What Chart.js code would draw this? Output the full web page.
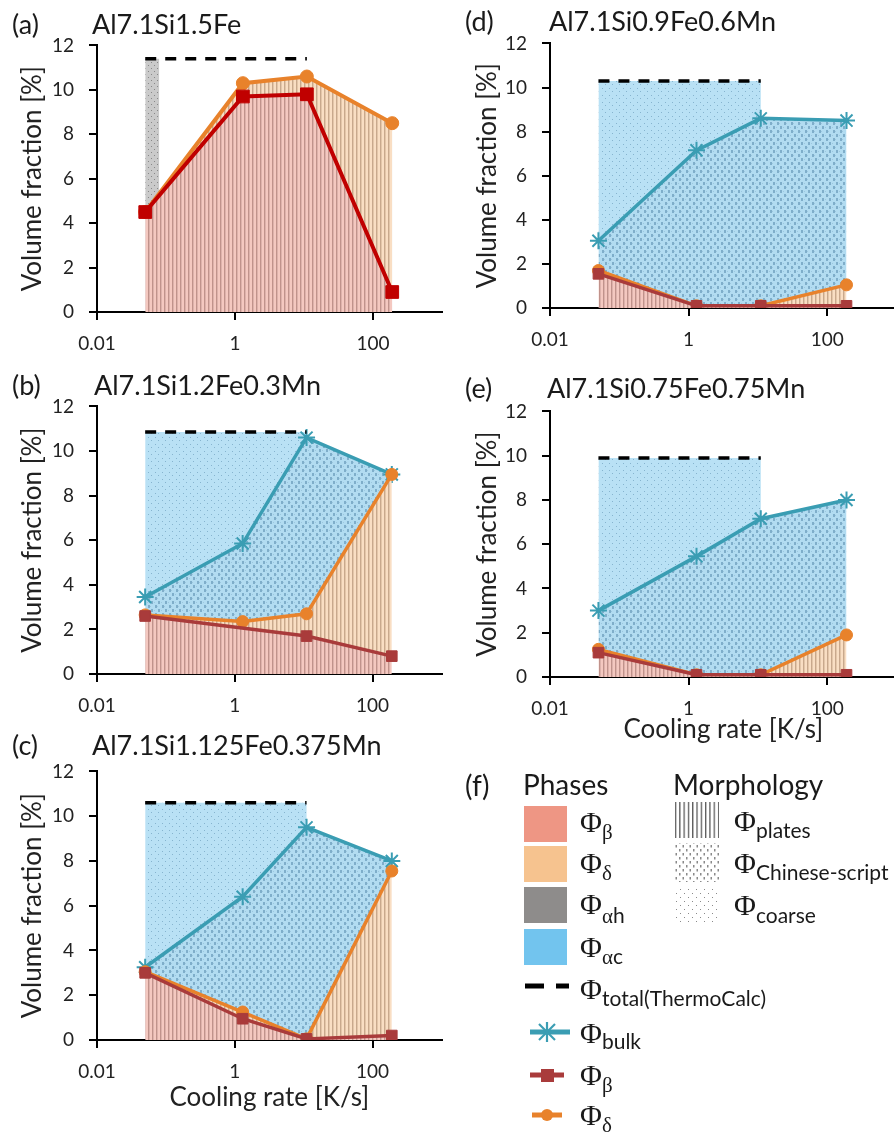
<!DOCTYPE html>
<html><head><meta charset="utf-8">
<script src="https://cdn.jsdelivr.net/npm/chart.js@4/dist/chart.umd.min.js"></script>
<style>
html,body{margin:0;padding:0;width:894px;height:1134px;overflow:hidden;background:#fff;}
canvas.c{position:absolute;}
.t{position:absolute;font-family:Lato,sans-serif;font-size:27px;line-height:27px;color:#1a1a1a;white-space:nowrap;}
.h{position:absolute;font-family:Lato,sans-serif;font-size:28px;line-height:28px;color:#1a1a1a;white-space:nowrap;}
.p{position:absolute;font-family:"Liberation Serif",serif;font-size:30px;line-height:30px;color:#1a1a1a;white-space:nowrap;}
.p .g{font-family:"Liberation Serif",serif;font-size:21px;position:relative;top:7px;}
.p .s{font-family:Lato,sans-serif;font-size:21px;position:relative;top:7px;}
</style></head><body>

<canvas class="c" id="ca"></canvas>
<canvas class="c" id="cb"></canvas>
<canvas class="c" id="cc"></canvas>
<canvas class="c" id="cd"></canvas>
<canvas class="c" id="ce"></canvas>

<div class="t" style="left:12px;top:10px">(a)</div><div class="t" style="left:92px;top:10px">Al7.1Si1.5Fe</div>
<div class="t" style="left:12px;top:371px">(b)</div><div class="t" style="left:94px;top:371px">Al7.1Si1.2Fe0.3Mn</div>
<div class="t" style="left:12px;top:731px">(c)</div><div class="t" style="left:92px;top:731px">Al7.1Si1.125Fe0.375Mn</div>
<div class="t" style="left:465px;top:7px">(d)</div><div class="t" style="left:549px;top:7px">Al7.1Si0.9Fe0.6Mn</div>
<div class="t" style="left:465px;top:374px">(e)</div><div class="t" style="left:547px;top:374px">Al7.1Si0.75Fe0.75Mn</div>

<!-- legend (f) -->
<svg style="position:absolute;left:447px;top:760px" width="447" height="374">
<defs>
<pattern id="pPl" width="4.3" height="10" patternUnits="userSpaceOnUse"><rect x="0" y="0" width="1.3" height="10" fill="#5a5a5a"/></pattern>
<pattern id="pCh" width="7" height="8" patternUnits="userSpaceOnUse"><rect x="1" y="1" width="1.5" height="2.5" fill="#8a8a8a"/><rect x="4.5" y="5" width="1.5" height="2.5" fill="#8a8a8a"/></pattern>
<pattern id="pCo" width="8" height="8" patternUnits="userSpaceOnUse"><rect x="1" y="1" width="1" height="1" fill="#8a8a8a"/><rect x="5" y="5" width="1" height="1" fill="#8a8a8a"/></pattern>
</defs>
<rect x="77" y="46" width="43" height="36" fill="#EE9684"/>
<rect x="77" y="86" width="43" height="36" fill="#F6C38F"/>
<rect x="77" y="127" width="43" height="36" fill="#8E8C8B"/>
<rect x="77" y="169" width="43" height="36" fill="#72C4EE"/>
<rect x="228" y="42" width="44" height="36" fill="url(#pPl)"/>
<rect x="228" y="83" width="44" height="39" fill="url(#pCh)"/>
<rect x="228" y="127" width="44" height="35" fill="url(#pCo)"/>
<line x1="78" y1="226" x2="97" y2="226" stroke="#000" stroke-width="5"/>
<line x1="109" y1="226" x2="122" y2="226" stroke="#000" stroke-width="5"/>
<line x1="83" y1="272" x2="123" y2="272" stroke="#3A9DB3" stroke-width="5"/>
<g stroke="#3A9DB3" stroke-width="2.2"><line x1="92" y1="264" x2="108" y2="280"/><line x1="108" y1="264" x2="92" y2="280"/><line x1="100" y1="262" x2="100" y2="282"/></g>
<line x1="83" y1="315" x2="117" y2="315" stroke="#A93B3B" stroke-width="5"/>
<rect x="94" y="309" width="13" height="13" fill="#A93B3B"/>
<line x1="85" y1="355" x2="115" y2="355" stroke="#E8822B" stroke-width="5"/>
<circle cx="100" cy="355" r="6" fill="#E8822B"/>
</svg>
<div class="h" style="left:465px;top:771px">(f)</div>
<div class="h" style="left:523px;top:770px">Phases</div>
<div class="h" style="left:673px;top:770px">Morphology</div>
<div class="p" style="left:580px;top:807px">Φ<span class="g">β</span></div>
<div class="p" style="left:580px;top:848px">Φ<span class="g">δ</span></div>
<div class="p" style="left:580px;top:889px">Φ<span class="g" style="top:9px">α</span><span class="s" style="top:9px">h</span></div>
<div class="p" style="left:580px;top:932px">Φ<span class="g">α</span><span class="s">c</span></div>
<div class="p" style="left:580px;top:974px">Φ<span class="s">total(ThermoCalc)</span></div>
<div class="p" style="left:580px;top:1018px">Φ<span class="s" style="top:6px">bulk</span></div>
<div class="p" style="left:580px;top:1060px">Φ<span class="g">β</span></div>
<div class="p" style="left:580px;top:1100px">Φ<span class="g">δ</span></div>
<div class="p" style="left:734px;top:806px">Φ<span class="s">plates</span></div>
<div class="p" style="left:734px;top:848px">Φ<span class="s">Chinese-script</span></div>
<div class="p" style="left:734px;top:890px">Φ<span class="s" style="top:8px">coarse</span></div>

<script>
// ---------- data ----------
const xTicks = [0.01, 1, 100];
const xTickLabels = ['0.01', '1', '100'];
const yTicks = [0, 2, 4, 6, 8, 10, 12];
const coolingRates = [0.05, 1.3, 11, 190];

// (a) Al7.1Si1.5Fe
const aBeta  = [4.5, 9.7, 9.8, 0.9];
const aDelta = [4.5, 10.3, 10.6, 8.5];
const aTotal = 11.4;
const aAlphaHRates = [0.05, 0.08];
// (b) Al7.1Si1.2Fe0.3Mn
const bBulk  = [3.45, 5.85, 10.6, 8.95];
const bBeta  = [2.6, null, 1.7, 0.8];
const bDelta = [2.65, 2.35, 2.7, 8.95];
const bTotal = 10.85;
// (c) Al7.1Si1.125Fe0.375Mn
const cBulk  = [3.25, 6.4, 9.5, 8.0];
const cBeta  = [3.0, 0.95, 0.05, 0.2];
const cDelta = [3.05, 1.25, 0.05, 7.55];
const cTotal = 10.6;
// (d) Al7.1Si0.9Fe0.6Mn
const dBulk  = [3.05, 7.15, 8.6, 8.5];
const dBeta  = [1.55, 0.1, 0.1, 0.1];
const dDelta = [1.7, 0.1, 0.1, 1.05];
const dTotal = 10.3;
// (e) Al7.1Si0.75Fe0.75Mn
const eBulk  = [3.0, 5.45, 7.15, 8.0];
const eBeta  = [1.1, 0.1, 0.1, 0.1];
const eDelta = [1.25, 0.1, 0.1, 1.9];
const eTotal = 9.9;

// ---------- styling ----------
const RED_A = '#C00000', RED = '#A93B3B', ORANGE = '#E8822B', TEAL = '#3A9DB3';

function makePattern(w, h, draw) {
  const c = document.createElement('canvas'); c.width = w; c.height = h;
  const g = c.getContext('2d'); draw(g);
  return g.createPattern(c, 'repeat');
}
const patBeta = makePattern(4, 4, g => { g.fillStyle = '#F4C8C0'; g.fillRect(0,0,4,4); g.fillStyle = '#C0928B'; g.fillRect(0,0,1,4); g.fillStyle = '#DDB2AB'; g.fillRect(1,0,1,4); });
const patDelta = makePattern(4, 4, g => { g.fillStyle = '#F9DEC3'; g.fillRect(0,0,4,4); g.fillStyle = '#C8A88C'; g.fillRect(0,0,1,4); g.fillStyle = '#E3C6A9'; g.fillRect(1,0,1,4); });
const patGray = makePattern(6, 6, g => { g.fillStyle = '#CACACA'; g.fillRect(0,0,6,6); g.fillStyle = '#888888'; g.fillRect(1,1,1,1); g.fillRect(4,4,1,1); });
const patCoarse = makePattern(7, 7, g => { g.fillStyle = '#B9E1F5'; g.fillRect(0,0,7,7); g.fillStyle = '#86B4CF'; g.fillRect(1,1,1,1); g.fillRect(4,4,1,1); });
const patChin = makePattern(7, 8, g => { g.fillStyle = '#B2DCF1'; g.fillRect(0,0,7,8); g.fillStyle = '#7FAECA'; g.fillRect(1,1,2,3); g.fillRect(4,5,2,3); g.fillStyle = '#9CC7DF'; g.fillRect(3,2,1,1); g.fillRect(0,6,1,1); });

const pts = (xs, ys) => xs.map((x, i) => ({x, y: ys[i]})).filter(p => p.y !== null && p.y !== undefined);
const totalPts = T => [{x: coolingRates[0], y: T}, {x: coolingRates[2], y: T}];
const envelope = (T, bulk) => [{x: coolingRates[0], y: T}, {x: coolingRates[2], y: T}, {x: coolingRates[2], y: bulk[2]}, {x: coolingRates[3], y: bulk[3]}];

function lineDs(label, data, color, fill, bg, style, radius, order, width) {
  return {label, data, borderColor: color, backgroundColor: bg, fill, pointStyle: style, pointRadius: radius,
    pointBackgroundColor: color, pointBorderColor: color, pointBorderWidth: style === 'star' ? 2 : 1,
    borderWidth: width || 3.5, order, tension: 0};
}
function dashedDs(T) {
  return {label: 'total', data: totalPts(T), borderColor: '#000', borderDash: [11, 9], borderWidth: 3.5,
    pointRadius: 0, fill: false, order: 0};
}
function phaseSets(beta, delta, bulk, T) {
  return [
    lineDs('β', pts(coolingRates, beta), RED, 'origin', patBeta, 'rect', 7.5, 1),
    lineDs('δ', pts(coolingRates, delta), ORANGE, 0, patDelta, 'circle', 6, 2),
    lineDs('bulk', pts(coolingRates, bulk), TEAL, 1, patChin, 'star', 8.5, 3),
    {label: 'αc coarse', data: envelope(T, bulk), borderWidth: 0, borderColor: 'rgba(0,0,0,0)', pointRadius: 0, backgroundColor: patCoarse, fill: 2, order: 4},
    dashedDs(T)
  ];
}

function makeChart(id, datasets, o) {
  const cv = document.getElementById(id);
  cv.width = o.W; cv.height = o.H;
  cv.style.left = o.L + 'px'; cv.style.top = o.T + 'px';
  cv.style.width = o.W + 'px'; cv.style.height = o.H + 'px';
  new Chart(cv, {
    type: 'line',
    data: {datasets},
    options: {
      responsive: false, animation: false, devicePixelRatio: 1,
      layout: {padding: {top: 20, right: o.pr, bottom: 0, left: 0}},
      plugins: {legend: {display: false}, tooltip: {enabled: false}},
      scales: {
        x: {
          type: 'logarithmic', min: 0.01, max: 1000,
          afterBuildTicks: s => { s.ticks = xTicks.map(v => ({value: v})); },
          afterFit: s => { s.height = o.xh; },
          ticks: {callback: (v, i) => xTickLabels[i], font: {family: 'Lato', size: 19}, color: '#222', padding: 12, maxRotation: 0, autoSkip: false},
          grid: {drawOnChartArea: false, drawTicks: true, tickLength: 8, color: '#000', lineWidth: 2},
          border: {display: true, color: '#000', width: 2},
          title: o.xTitle ? {display: true, text: 'Cooling rate [K/s]', font: {family: 'Lato', size: 26}, color: '#222', padding: {top: 0, bottom: o.xtpb}} : {display: false}
        },
        y: {
          min: 0, max: 12,
          afterBuildTicks: s => { s.ticks = yTicks.map(v => ({value: v})); },
          afterFit: s => { s.width = o.yw; },
          ticks: {font: {family: 'Lato', size: 19}, color: '#222', padding: 15},
          grid: {drawOnChartArea: false, drawTicks: true, tickLength: 8, color: '#000', lineWidth: 2},
          border: {display: true, color: '#000', width: 2},
          title: {display: true, text: 'Volume fraction [%]', font: {family: 'Lato', size: 26}, color: '#222', padding: {top: o.ytp, bottom: 0}}
        }
      }
    }
  });
}

// (a)
makeChart('ca', [
  lineDs('β', pts(coolingRates, aBeta), RED_A, 'origin', patBeta, 'rect', 9, 1, 4),
  lineDs('δ', pts(coolingRates, aDelta), ORANGE, 0, patDelta, 'circle', 6.5, 2, 4),
  {label: 'αh', data: aAlphaHRates.map(x => ({x, y: aTotal})), borderWidth: 0, borderColor: 'rgba(0,0,0,0)', pointRadius: 0, backgroundColor: patGray, fill: 1, order: 3},
  dashedDs(aTotal)
], {L: 0, T: 19, W: 452, H: 338, pr: 3, yw: 97, xh: 45, ytp: 17});

makeChart('cb', phaseSets(bBeta, bDelta, bBulk, bTotal), {L: 0, T: 380, W: 452, H: 339, pr: 3, yw: 97, xh: 45, ytp: 17});
makeChart('cc', phaseSets(cBeta, cDelta, cBulk, cTotal), {L: 0, T: 745, W: 452, H: 370, pr: 3, yw: 97, xh: 75, ytp: 17, xTitle: true, xtpb: 2});
makeChart('cd', phaseSets(dBeta, dDelta, dBulk, dTotal), {L: 447, T: 17, W: 460, H: 336, pr: 4, yw: 103, xh: 45, ytp: 25});
makeChart('ce', phaseSets(eBeta, eDelta, eBulk, eTotal), {L: 447, T: 385, W: 460, H: 367, pr: 4, yw: 103, xh: 75, ytp: 25, xTitle: true, xtpb: 7});
</script>
</body></html>
